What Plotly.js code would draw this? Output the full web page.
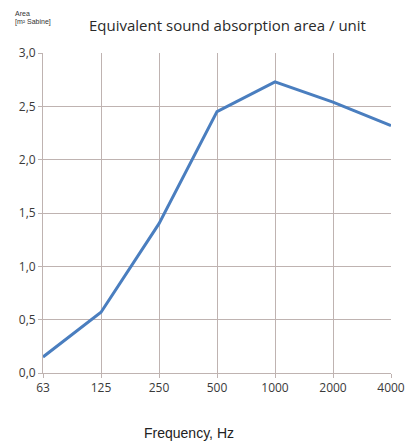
<!DOCTYPE html>
<html><head><meta charset="utf-8">
<script src="https://cdn.plot.ly/plotly-3.0.1.min.js"></script>
<style>html,body{margin:0;padding:0;background:#fff}#chart{width:406px;height:442px}</style>
</head><body><div id="chart"></div>
<script>
const frequencies = ["63","125","250","500","1000","2000","4000"];
const absorption = [0.15, 0.57, 1.40, 2.45, 2.73, 2.54, 2.32];
const yTicks = [0, 0.5, 1.0, 1.5, 2.0, 2.5, 3.0];

const gridColor = "#bfb3b1";
const tickFont = {family: "Open Sans, Liberation Sans, sans-serif", size: 12, color: "#3a3a3a"};

Plotly.newPlot("chart", [{
  x: frequencies, y: absorption, type: "scatter", mode: "lines",
  line: {color: "#4a7ebf", width: 3}
}], {
  width: 406, height: 442,
  margin: {l: 43, r: 15, t: 53, b: 69},
  paper_bgcolor: "#fff", plot_bgcolor: "#fff",
  separators: ",.",
  showlegend: false,
  xaxis: {
    type: "category", range: [0, 6], showgrid: true, gridcolor: gridColor, gridwidth: 1,
    showline: true, linecolor: gridColor, ticks: "outside", ticklen: 4, tickcolor: gridColor,
    tickfont: tickFont, zeroline: false, fixedrange: true
  },
  yaxis: {
    range: [0, 3], tickvals: yTicks, tickformat: ".1f", showgrid: true, gridcolor: gridColor,
    showline: true, linecolor: gridColor, ticks: "outside", ticklen: 4, tickcolor: gridColor,
    tickfont: tickFont, zeroline: false, fixedrange: true
  },
  annotations: [
    {text: "Equivalent sound absorption area / unit", xref: "paper", yref: "paper", x: 0.53, y: 1, yshift: 28,
     xanchor: "center", yanchor: "middle", showarrow: false,
     font: {family: "Open Sans, sans-serif", size: 15, color: "#2a2a2a"}},
    {text: "Area", xref: "paper", yref: "paper", x: 0, xshift: -30, y: 1, yshift: 40,
     xanchor: "left", yanchor: "middle", showarrow: false,
     font: {family: "Liberation Sans, Arial, sans-serif", size: 7, color: "#333"}},
    {text: "[m² Sabine]", xref: "paper", yref: "paper", x: 0, xshift: -30, y: 1, yshift: 31,
     xanchor: "left", yanchor: "middle", showarrow: false,
     font: {family: "Liberation Sans, Arial, sans-serif", size: 7, color: "#333"}},
    {text: "Frequency, Hz", xref: "paper", yref: "paper", x: 0.42, y: 0, yshift: -60,
     xanchor: "center", yanchor: "middle", showarrow: false,
     font: {family: "Liberation Sans, Arial, sans-serif", size: 14, color: "#222"}}
  ]
}, {displayModeBar: false, staticPlot: true});
</script></body></html>
